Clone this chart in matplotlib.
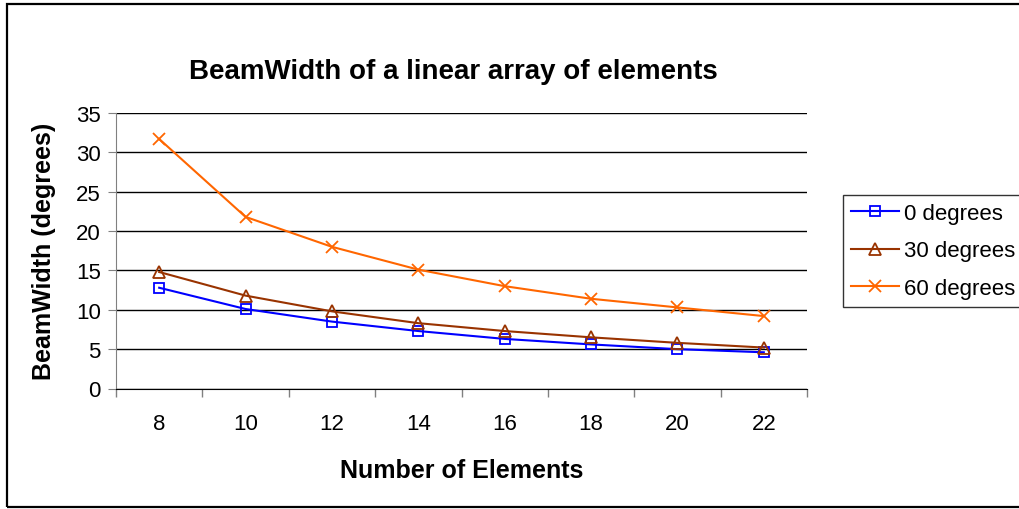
import matplotlib.pyplot as plt
from matplotlib.patches import Rectangle

plt.rcParams['font.family'] = ['Liberation Sans', 'DejaVu Sans']

elements = [8, 10, 12, 14, 16, 18, 20, 22]
bw_0 = [12.8, 10.1, 8.5, 7.3, 6.3, 5.6, 5.0, 4.6]
bw_30 = [14.8, 11.8, 9.8, 8.3, 7.3, 6.5, 5.8, 5.2]
bw_60 = [31.7, 21.8, 18.0, 15.1, 13.0, 11.4, 10.3, 9.2]
series_labels = ['0 degrees', '30 degrees', '60 degrees']

fig = plt.figure(figsize=(10.19, 5.10), dpi=100)
ax = fig.add_axes([116 / 1019, 1 - 389.5 / 510, 691 / 1019, 275.5 / 510])

# outer chart frame (right edge runs off the picture)
fig.patches.append(Rectangle((7 / 1019, 2 / 510), 1.1, 503 / 510, transform=fig.transFigure,
                             fill=False, edgecolor='black', linewidth=1.6))

x = range(len(elements))
ax.plot(x, bw_0, color='#0000FF', marker='s', markersize=7, markerfacecolor='none',
        markeredgewidth=1.3, linewidth=1.5, label=series_labels[0])
ax.plot(x, bw_30, color='#993300', marker='^', markersize=8, markerfacecolor='none',
        markeredgewidth=1.3, linewidth=1.5, label=series_labels[1])
ax.plot(x, bw_60, color='#FF6600', marker='x', markersize=9,
        markeredgewidth=1.3, linewidth=1.5, label=series_labels[2])

ax.set_xlim(-0.5, len(elements) - 0.5)
ax.set_ylim(0, 35)
ax.set_yticks(range(0, 36, 5))
ax.set_xticks(x)
ax.set_xticklabels([str(e) for e in elements])
ax.set_xticks([i - 0.5 for i in range(len(elements) + 1)], minor=True)
ax.tick_params(axis='x', which='major', length=0, labelsize=16, pad=18)
ax.tick_params(axis='x', which='minor', length=6, color='#808080', width=1)
ax.tick_params(axis='y', length=6, color='#808080', labelsize=16, pad=5)

ax.grid(axis='y', color='black', linewidth=1)
ax.set_axisbelow(True)
for s in ['top', 'right']:
    ax.spines[s].set_visible(False)
ax.spines['left'].set_color('#808080')
ax.spines['bottom'].set_color('black')

ax.set_title('BeamWidth of a linear array of elements', fontsize=20, fontweight='bold',
             pad=25, x=0.488)
ax.set_xlabel('Number of Elements', fontsize=18, fontweight='bold', labelpad=17)
ax.set_ylabel('BeamWidth (degrees)', fontsize=18, fontweight='bold', labelpad=14)

leg = ax.legend(loc='upper left', bbox_to_anchor=(843 / 1019, 1 - 196 / 510),
                bbox_transform=fig.transFigure, fontsize=16, frameon=True, fancybox=False,
                edgecolor='black', borderpad=0.35, labelspacing=0.75, handlelength=2.15,
                handletextpad=0.25, borderaxespad=0)
leg.get_frame().set_linewidth(1)

fig.savefig('out.png', dpi=100)
